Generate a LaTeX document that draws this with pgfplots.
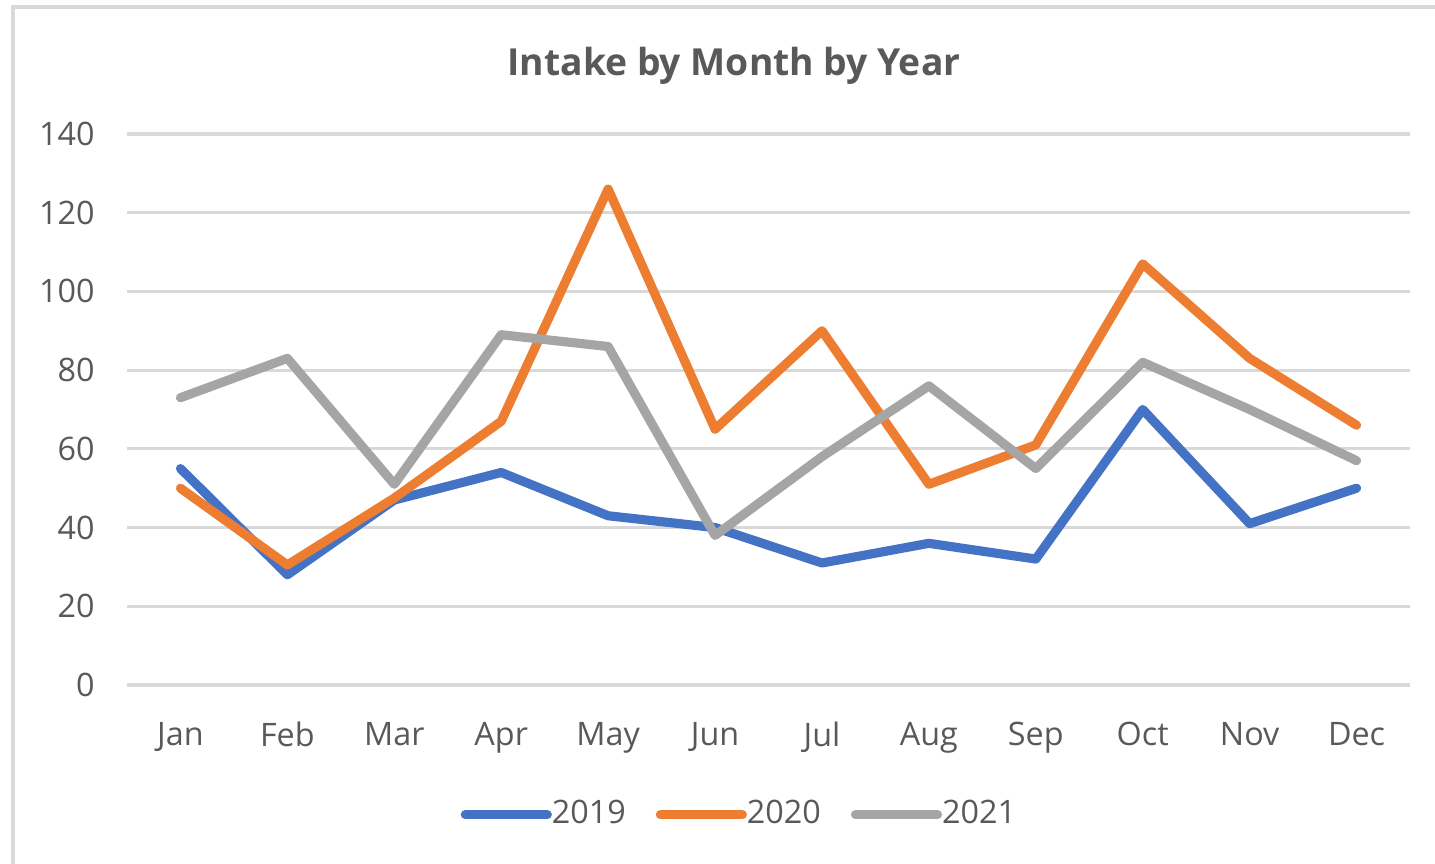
\documentclass[border=0pt]{standalone}
\usepackage{pgfplots}
\pgfplotsset{compat=1.18}
\usepackage{fontspec}
\setmainfont{Open Sans}
\definecolor{cblue}{HTML}{4472C4}
\definecolor{corange}{HTML}{ED7D31}
\definecolor{cgray}{HTML}{A5A5A5}
\definecolor{txt}{HTML}{595959}
\definecolor{gridc}{HTML}{D9D9D9}
\begin{document}
\begin{tikzpicture}
\path[use as bounding box] (0,0) rectangle (14.35cm,8.63cm);
\draw[gridc, line width=0.9pt] (0.13cm,-0.5cm) -- (0.13cm,8.56cm) -- (15cm,8.56cm);
\node[text=txt, font=\fontsize{10.6}{12}\selectfont\bfseries] at (7.34cm,7.97cm) {Intake by Month by Year};
\begin{axis}[
  at={(1.27cm,1.78cm)}, anchor=south west,
  scale only axis, width=12.83cm, height=5.51cm,
  xmin=-0.5, xmax=11.5, ymin=0, ymax=140,
  xtick={0,...,11},
  xticklabels={Jan,Feb,Mar,Apr,May,Jun,Jul,Aug,Sep,Oct,Nov,Dec},
  ytick={0,20,...,140},
  xmajorgrids=false, ymajorgrids=true,
  major grid style={gridc, line width=0.9pt},
  axis line style={draw=none},
  major tick style={draw=none},
  tick label style={text=txt, font=\fontsize{9.2}{11}\selectfont},
  /pgf/number format/assume math mode=true,
  yticklabel style={xshift=-0.2cm},
  xticklabel style={yshift=-0.25cm},
  legend columns=3,
  legend style={draw=none, at={(0.4765,-0.2355)}, anchor=center, font=\fontsize{9.2}{11}\selectfont, text=txt,
    /tikz/every even column/.append style={column sep=0.3cm},
    nodes={inner xsep=0pt}},
  legend image code/.code={\draw[#1, line cap=round] (0cm,0cm) -- (0.82cm,0cm);},
  every axis plot/.append style={line width=2.6pt, line cap=round, line join=round},
]
\addplot[cblue] coordinates {(0,55) (1,28) (2,47) (3,54) (4,43) (5,40) (6,31) (7,36) (8,32) (9,70) (10,41) (11,50)};
\addplot[corange] coordinates {(0,50) (1,30.5) (2,47.5) (3,67) (4,126) (5,65) (6,90) (7,51) (8,61) (9,107) (10,83) (11,66)};
\addplot[cgray] coordinates {(0,73) (1,83) (2,51) (3,89) (4,86) (5,38) (6,58) (7,76) (8,55) (9,82) (10,70) (11,57)};
\legend{2019,2020,2021}
\end{axis}
\end{tikzpicture}
\end{document}
